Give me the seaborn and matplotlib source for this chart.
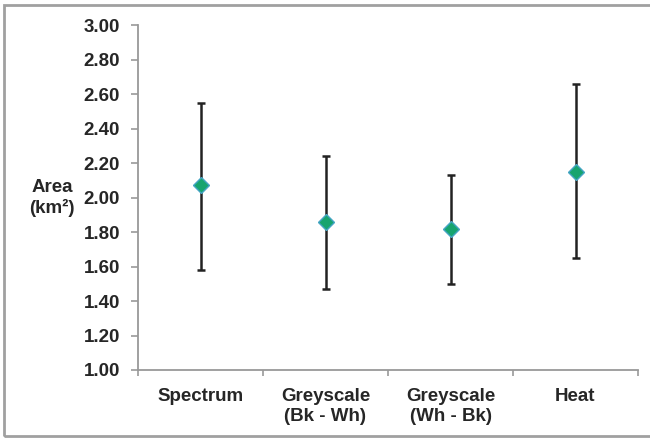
import numpy as np
import pandas as pd
import matplotlib.pyplot as plt
from matplotlib.patches import Rectangle
import seaborn as sns

# data
methods = ['Spectrum', 'Greyscale\n(Bk - Wh)', 'Greyscale\n(Wh - Bk)', 'Heat']
area_mean = [2.07, 1.86, 1.82, 2.15]
area_low = [1.58, 1.47, 1.50, 1.65]
area_high = [2.55, 2.24, 2.13, 2.66]

df = pd.DataFrame({'method': methods, 'area': area_mean,
                   'low': area_low, 'high': area_high})

sns.set_style('white')
plt.rcParams['font.family'] = ['Liberation Sans', 'DejaVu Sans']
plt.rcParams['font.weight'] = 'bold'

fig = plt.figure(figsize=(6.5, 4.38), dpi=100)
ax = fig.add_axes([138 / 650, 68 / 438, 500 / 650, 345 / 438])

# error bars first, markers on top
xpos = np.arange(len(df))
ax.errorbar(xpos, df['area'],
            yerr=[df['area'] - df['low'], df['high'] - df['area']],
            fmt='none', ecolor='#222222', elinewidth=1.8, capsize=3.2,
            capthick=1.8, zorder=2)

sns.pointplot(data=df, x='method', y='area', order=methods,
              linestyle='none', markers='D', errorbar=None,
              color='#17A46F', markersize=8,
              markeredgecolor='#45A5C4', markeredgewidth=1.0, ax=ax)
for coll in ax.lines:
    coll.set_zorder(3)

ax.set_xlim(-0.5, 3.5)
ax.set_ylim(1.0, 3.0)
ax.set_yticks(np.arange(1.0, 3.01, 0.2))
ax.set_yticklabels([f'{v:.2f}' for v in np.arange(1.0, 3.01, 0.2)])

# tick marks between categories, labels under centres
ax.set_xticks(xpos)
ax.set_xticklabels(methods, linespacing=1.25)
ax.set_xticks(np.arange(-0.5, 3.6, 1.0), minor=True)
ax.tick_params(axis='x', which='major', length=0, pad=13, labelsize=13.5)
ax.tick_params(axis='x', which='minor', length=4, width=1.2, color='#999999',
               direction='out', bottom=True)
ax.tick_params(axis='y', length=5, width=1.2, color='#999999',
               direction='out', left=True, pad=8, labelsize=13.5)
for lbl in ax.get_xticklabels() + ax.get_yticklabels():
    lbl.set_fontweight('bold')

for side in ['top', 'right']:
    ax.spines[side].set_visible(False)
for side in ['left', 'bottom']:
    ax.spines[side].set_color('#999999')
    ax.spines[side].set_linewidth(1.3)

ax.set_xlabel('')
ax.set_ylabel('')
fig.text(52 / 650, 1 - 198 / 438, 'Area\n(km²)', ha='center',
         va='center', fontsize=13.5, fontweight='bold', linespacing=1.25)

# outer frame of the original chart area
fig.patches.append(Rectangle((4 / 650, 2 / 438), 1.2, 431 / 438,
                             transform=fig.transFigure, fill=False,
                             edgecolor='#A0A0A0', linewidth=2.0))

fig.savefig('out.png', dpi=100)
